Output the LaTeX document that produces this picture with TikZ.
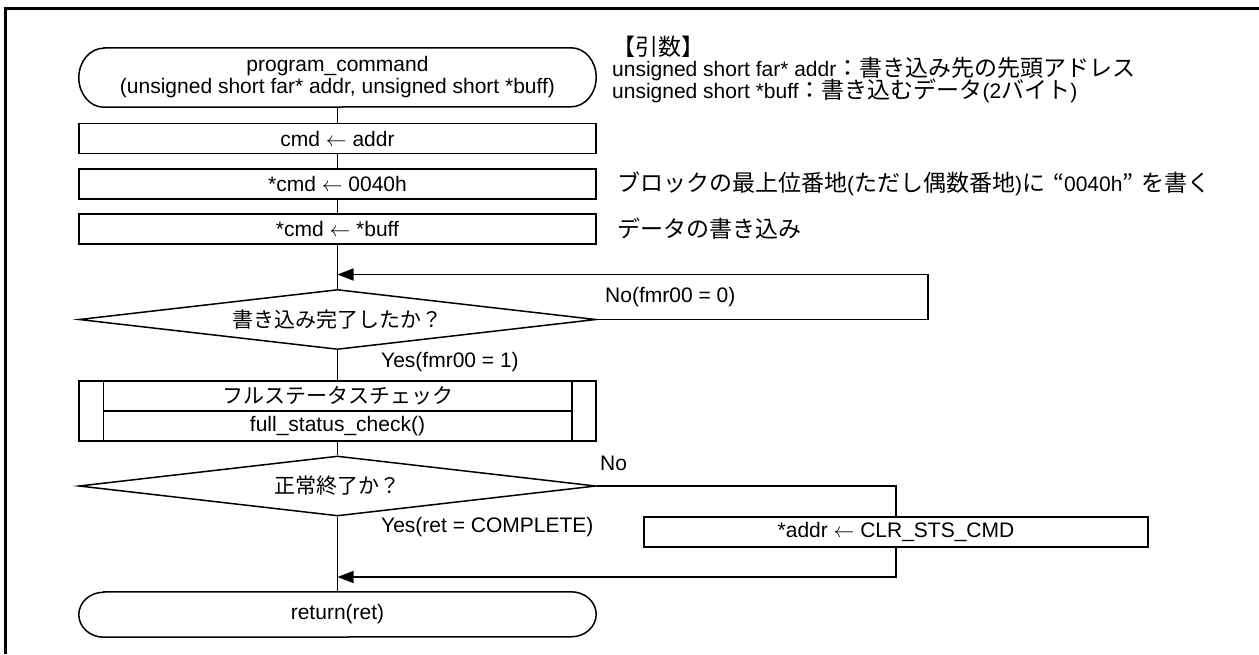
\documentclass[tikz,border=0pt]{standalone}
\usepackage{fontspec}
\setmainfont{Liberation Sans}
\newfontfamily\jp{Noto Sans CJK JP}
\newcommand\jpa{\jp\fontsize{23}{22}\selectfont}
\usetikzlibrary{arrows.meta,shapes.geometric}
\newcommand\drawterm[2]{%
  \draw[ln] ([xshift=25pt]#1.north west) -- ([xshift=-25pt]#1.north east)
    arc[start angle=90,end angle=-90,x radius=25pt,y radius=#2]
    -- ([xshift=25pt]#1.south west)
    arc[start angle=270,end angle=90,x radius=25pt,y radius=#2] -- cycle;}
\begin{document}
\begin{tikzpicture}[x=1pt,y=-1pt,font=\fontsize{21}{22}\selectfont,
  ln/.style={line width=1.5pt},
  proc/.style={draw,ln,minimum width=517pt,minimum height=30pt,inner sep=0pt},
  dec/.style={draw,ln,diamond,aspect=8.6,minimum width=517pt,minimum height=60pt,inner sep=0pt},
  termtext/.style={minimum width=517pt,inner sep=0pt,align=center},
  lbl/.style={anchor=west,inner sep=0pt},
  arr/.style={ln,-{Triangle[length=16pt,width=12pt]}}]
\fill[white] (0,0) rectangle (1259,654);
\useasboundingbox (0,0) rectangle (1259,654);
\draw[line width=3pt] (5.5,654) -- (5.5,8.5) -- (1259,8.5);

% flow
\node[termtext,minimum height=59pt] (start) at (337.5,77.5)
  {program\_command\\(unsigned short far* addr, unsigned short *buff)};
\drawterm{start}{29.5pt}
\node[proc] (b1) at (337.5,138.5) {cmd $\leftarrow$ addr};
\node[proc] (b2) at (337.5,184) {*cmd $\leftarrow$ 0040h};
\node[proc] (b3) at (337.5,229) {*cmd $\leftarrow$ *buff};
\coordinate (m1) at (337.5,274.5);
\node[dec] (d1) at (337.5,319.5) {\jp 書き込み完了したか？};
\node[proc,minimum height=60pt] (sub) at (337.5,411) {};
\draw[ln] ([xshift=25pt]sub.north west) -- ([xshift=25pt]sub.south west);
\draw[ln] ([xshift=-25pt]sub.north east) -- ([xshift=-25pt]sub.south east);
\draw[ln] ([xshift=25pt]sub.west) -- ([xshift=-25pt]sub.east);
\node (s1) at (337.5,396) {\jp フルステータスチェック};
\node (s2) at (337.5,426) {full\_status\_check()};
\node[dec] (d2) at (337.5,486) {\jp 正常終了か？};
\node[proc,minimum width=504pt] (clr) at (896,532) {*addr $\leftarrow$ CLR\_STS\_CMD};
\coordinate (m2) at (337.5,577);
\node[termtext,minimum height=45pt] (ret) at (337.5,614.5) {return(ret)};
\drawterm{ret}{22.5pt}

\draw[ln] (start) -- (b1);
\draw[ln] (b1) -- (b2);
\draw[ln] (b2) -- (b3);
\draw[ln] (b3) -- (d1);
\draw[ln] (d1) -- (sub);
\draw[ln] (sub) -- (d2);
\draw[ln] (d2) -- (ret);
\draw[arr] (d1.east) -- ++(331,0) |- (m1);
\draw[ln] (d2.east) -| (clr.north);
\draw[arr] (clr.south) |- (m2);

% labels
\node[lbl] (l1) at (605,297) {No(fmr00 = 0)};
\node[lbl] (l2) at (381,362) {Yes(fmr00 = 1)};
\node[lbl] (l3) at (600,463) {No};
\node[lbl] (l4) at (381,527) {Yes(ret = COMPLETE)};

% annotations
\node[lbl] (a0) at (612,47) {\jpa 【引数】};
\node[lbl] (a1) at (612,69) {unsigned short far* addr{\jpa ：書き込み先の先頭アドレス}};
\node[lbl] (a2) at (612,91) {unsigned short *buff{\jpa ：書き込むデータ}(2{\jpa バイト})};
\node[lbl] (a3) at (617,184) {{\jpa ブロックの最上位番地}({\jpa ただし偶数番地}){\jpa に}\hspace{8pt}{\jpa “}0040h{\jpa ”}\hspace{8pt}{\jpa を書く}};
\node[lbl] (a4) at (617,229) {\jpa データの書き込み};
\end{tikzpicture}
\end{document}
